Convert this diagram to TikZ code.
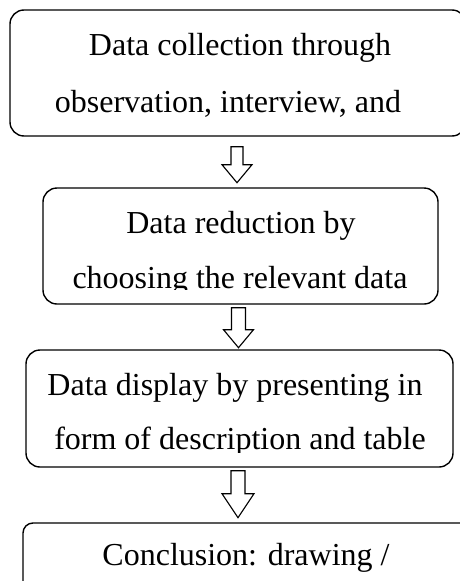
\documentclass[tikz,border=0pt]{standalone}
\usepackage{fontspec}
\setmainfont{Liberation Serif}
\usetikzlibrary{calc}
\begin{document}
\begin{tikzpicture}[x=1pt,y=-1pt,
  box/.style={draw=black, line width=1.4pt, rounded corners=14pt, rectangle, inner sep=0pt},
  txt/.style={anchor=base, inner sep=0pt, font=\fontsize{32}{40}\selectfont},
  blk/.style={draw=black, line width=1.1pt, fill=white, line join=miter}]
\useasboundingbox (0,0) rectangle (460,581);
% boxes
\node[box, minimum width=456pt, minimum height=126pt] (b1) at (238,73) {};
\node[box, minimum width=395pt, minimum height=116pt] (b2) at (240.5,246) {};
\node[box, minimum width=427pt, minimum height=117pt] (b3) at (239.5,408.5) {};
\node[box, rounded corners=10pt, minimum width=447pt, minimum height=77pt] (b4) at (246.5,561.5) {};
% texts
\node[txt] (t1a) at (240,55) {Data collection through};
\node[txt] (t1b) at (228,112) {observation, interview, and};
\begin{scope}
\clip (0,150) rectangle (460,289);
\node[txt] (t2a) at (241,233) {Data reduction by};
\node[txt] (t2b) at (240,288) {choosing the relevant data};
\end{scope}
\begin{scope}
\clip (0,360) rectangle (460,452);
\node[txt] (t3a) at (235,395) {Data display by presenting in};
\node[txt] (t3b) at (240,449) {form of description and table};
\end{scope}
\begin{scope}
\clip (0,530) rectangle (460,577);
\node[txt] (t4a) at (246,565) {Conclusion: drawing /};
\end{scope}
% block arrows
\coordinate (a1) at ($(b1.south)+(-1,10)$);
\draw[blk] (a1) ++(-6,0) -- ++(12,0) -- ++(0,18) -- ++(9,0) -- ++(-15,18) -- ++(-15,-18) -- ++(9,0) -- cycle;
\coordinate (a2) at ($(b2.north)+(-2,-3)$);
\coordinate (a2t) at ($(b2.south)+(-2,3)$);
\draw[blk] (a2t) ++(-7,0) -- ++(14,0) -- ++(0,22) -- ++(8,0) -- ++(-15,18) -- ++(-15,-18) -- ++(8,0) -- cycle;
\coordinate (a3t) at ($(b3.south)+(-1.5,3)$);
\draw[blk] (a3t) ++(-7,0) -- ++(14,0) -- ++(0,23) -- ++(9,0) -- ++(-16,24) -- ++(-16,-24) -- ++(9,0) -- cycle;
\end{tikzpicture}
\end{document}
